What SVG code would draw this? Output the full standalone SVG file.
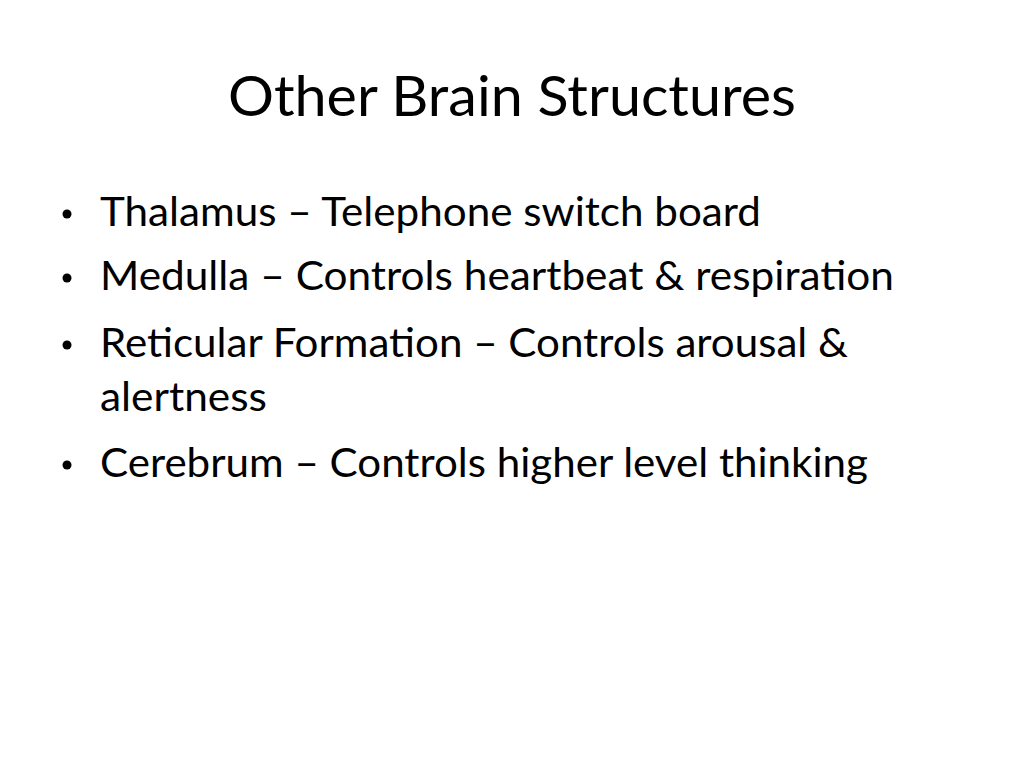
<svg xmlns="http://www.w3.org/2000/svg" width="1024" height="768" viewBox="0 0 1024 768">
<style>
text{font-family:Lato,"Open Sans","Liberation Sans",sans-serif;fill:#000}
.t{font-size:56px}
.b{font-size:40px}
</style>
<rect width="1024" height="768" fill="#fff"/>
<g id="title"><text class="t" x="228" y="116" textLength="568" lengthAdjust="spacingAndGlyphs">Other Brain Structures</text></g>
<g id="bullets">
<circle cx="67" cy="214" r="4.5"/>
<text class="b" x="100" y="226" textLength="661" lengthAdjust="spacingAndGlyphs">Thalamus – Telephone switch board</text>
<circle cx="67" cy="278" r="4.5"/>
<text class="b" x="100" y="290" textLength="794" lengthAdjust="spacingAndGlyphs">Medulla – Controls heartbeat &amp; respiration</text>
<circle cx="67" cy="345" r="4.5"/>
<text class="b" x="100" y="357" textLength="748" lengthAdjust="spacingAndGlyphs">Reticular Formation – Controls arousal &amp;</text>
<text class="b" x="100" y="411" textLength="167" lengthAdjust="spacingAndGlyphs">alertness</text>
<circle cx="67" cy="465" r="4.5"/>
<text class="b" x="100" y="477" textLength="768" lengthAdjust="spacingAndGlyphs">Cerebrum – Controls higher level thinking</text>
</g>
</svg>
